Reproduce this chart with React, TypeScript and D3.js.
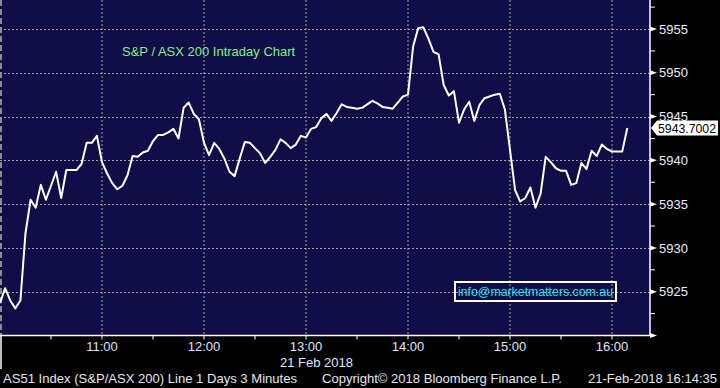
import React from "react";
import * as d3 from "d3";

const START = "2018-02-21T10:00:00";
const STEP_MINUTES = 3;
const VALUES: number[] = [
  5923.7, 5925.4, 5924.0, 5923.1, 5924.0, 5931.7, 5935.5, 5934.6, 5937.2, 5935.5,
  5937.1, 5938.7, 5935.7, 5938.9, 5938.9, 5938.9, 5939.6, 5942.0, 5942.0, 5942.8,
  5939.8, 5938.5, 5937.4, 5936.7, 5937.1, 5938.3, 5940.5, 5940.4, 5940.9, 5941.1,
  5942.2, 5942.9, 5942.9, 5943.2, 5943.6, 5942.5, 5946.0, 5946.6, 5945.3, 5944.7,
  5942.0, 5940.6, 5942.0, 5941.3, 5940.2, 5938.7, 5938.2, 5940.2, 5942.1, 5942.0,
  5941.4, 5940.8, 5939.7, 5940.4, 5941.2, 5942.4, 5942.0, 5941.4, 5941.8, 5942.8,
  5942.6, 5943.6, 5943.8, 5944.8, 5945.3, 5944.5, 5945.4, 5946.4, 5946.1, 5946.0,
  5945.9, 5946.0, 5946.4, 5946.8, 5946.5, 5946.1, 5946.0, 5945.9, 5946.6, 5947.3,
  5947.5, 5953.0, 5955.1, 5955.2, 5953.9, 5952.4, 5952.1, 5948.6, 5947.4, 5947.9,
  5944.3, 5945.8, 5946.7, 5944.5, 5946.3, 5947.1, 5947.3, 5947.5, 5947.6, 5945.8,
  5941.2, 5936.6, 5935.3, 5935.7, 5936.9, 5934.6, 5936.2, 5940.4, 5939.8, 5939.1,
  5938.8, 5938.8, 5937.2, 5937.4, 5939.7, 5939.0, 5941.1, 5940.5, 5941.8, 5941.3,
  5941.0, 5941.0, 5941.0, 5943.7002,
];
const LAST_LABEL = "5943.7002";
const HOUR_TICKS = ["11:00", "12:00", "13:00", "14:00", "15:00", "16:00"];
const Y_MAJOR = [5920, 5925, 5930, 5935, 5940, 5945, 5950, 5955];
const Y_LABELS = [5925, 5930, 5935, 5940, 5945, 5950, 5955];
const TITLE = "S&P / ASX 200 Intraday Chart";
const INFO = "info@marketmatters.com.au";
const DATE_LABEL = "21 Feb 2018";
const FOOTER_LEFT = "AS51 Index (S&P/ASX 200) Line 1 Days 3 Minutes";
const FOOTER_MID = "Copyright\u00A9 2018 Bloomberg Finance L.P.";
const FOOTER_RIGHT = "21-Feb-2018 16:14:35";

const W = 720;
const H = 388;
const PLOT_R = 650;
const PLOT_B = 335.5;

export default function App() {
  const t0 = new Date(START);
  const x = d3
    .scaleTime()
    .domain([t0, d3.timeHour.offset(t0, 6)])
    .range([0, 612]);
  const y = d3.scaleLinear().domain([5920, 5955]).range([PLOT_B, 29]);

  const pts = VALUES.map((v, i) => ({
    t: d3.timeMinute.offset(t0, i * STEP_MINUTES),
    v,
  }));
  const line = d3
    .line<{ t: Date; v: number }>()
    .x((d) => x(d.t))
    .y((d) => y(d.v));

  const hourDates = HOUR_TICKS.map((s) => {
    const [hh, mm] = s.split(":").map(Number);
    const d = new Date(t0);
    d.setHours(hh, mm, 0, 0);
    return d;
  });
  const halfTicks = d3.timeMinute
    .every(30)!
    .range(d3.timeMinute.offset(t0, 30), x.invert(PLOT_R));
  const yMinor = d3.range(5922.5, 5958, 5);
  const last = pts[pts.length - 1];
  const ly = y(last.v);
  const font = "'Liberation Sans', Arial, sans-serif";
  const grid = "#a9a58f";

  return (
    <svg
      width={W}
      height={H}
      style={{ position: "absolute", left: 0, top: 0, display: "block" }}
      fontFamily={font}
    >
      <rect x={0} y={0} width={W} height={H} fill="#000" />
      <rect x={0} y={0} width={PLOT_R} height={PLOT_B} fill="#100d48" />
      {/* grid */}
      {hourDates.map((d, i) => (
        <line
          key={"vg" + i}
          x1={x(d)}
          x2={x(d)}
          y1={0}
          y2={PLOT_B}
          stroke={grid}
          strokeWidth={1}
          strokeDasharray="2,2"
        />
      ))}
      {Y_MAJOR.slice(1).map((v) => (
        <line
          key={"hg" + v}
          x1={0}
          x2={PLOT_R}
          y1={Math.round(y(v)) + 0.5}
          y2={Math.round(y(v)) + 0.5}
          stroke={grid}
          strokeWidth={1}
          strokeDasharray="2,2"
        />
      ))}
      <line
        x1={1}
        x2={1}
        y1={0}
        y2={PLOT_B}
        stroke="#8c8c8c"
        strokeWidth={2}
        strokeDasharray="6,3"
      />
      {/* title */}
      <text x={122} y={56} fill="#86ee86" fontSize={13}>
        {TITLE}
      </text>
      {/* info box */}
      <rect
        x={455}
        y={282}
        width={161}
        height={19}
        fill="none"
        stroke="#fff"
        strokeWidth={2}
      />
      <text
        x={458}
        y={296}
        fill="#22e3e6"
        fontSize={12.5}
        textLength={155}
        lengthAdjust="spacingAndGlyphs"
      >
        {INFO}
      </text>
      {/* line */}
      <path
        d={line(pts) || ""}
        fill="none"
        stroke="#fff"
        strokeWidth={2}
        strokeLinejoin="round"
      />
      {/* axes */}
      <line x1={PLOT_R} x2={PLOT_R} y1={0} y2={PLOT_B} stroke="#fff" strokeWidth={1.5} />
      <line x1={0} x2={PLOT_R} y1={PLOT_B} y2={PLOT_B} stroke="#fff" strokeWidth={1.5} />
      <line x1={1} x2={1} y1={PLOT_B} y2={369} stroke="#fff" strokeWidth={1.5} />
      {yMinor.map((v) => (
        <line
          key={"ym" + v}
          x1={PLOT_R}
          x2={PLOT_R + 5}
          y1={y(v)}
          y2={y(v)}
          stroke="#fff"
          strokeWidth={1}
        />
      ))}
      {Y_MAJOR.map((v) => (
        <path
          key={"yM" + v}
          d={`M${PLOT_R},${y(v) - 2.5}L${PLOT_R + 7},${y(v)}L${PLOT_R},${y(v) + 2.5}Z`}
          fill="#fff"
        />
      ))}
      {Y_LABELS.map((v) => (
        <text
          key={"yl" + v}
          x={659}
          y={y(v) + 4.7}
          fill="#e8ecff"
          fontSize={13}
        >
          {v}
        </text>
      ))}
      {/* last value tag */}
      <path
        d={`M${PLOT_R + 1},${ly}L${PLOT_R + 7},${ly - 7.5}L718,${ly - 7.5}L718,${ly + 7.5}L${PLOT_R + 7},${ly + 7.5}Z`}
        fill="#fff"
      />
      <text x={658} y={ly + 4.7} fill="#000" fontSize={13} textLength={58} lengthAdjust="spacingAndGlyphs">
        {LAST_LABEL}
      </text>
      {/* x ticks */}
      {halfTicks.map((d, i) => (
        <line
          key={"xt" + i}
          x1={x(d)}
          x2={x(d)}
          y1={PLOT_B}
          y2={PLOT_B + 4}
          stroke="#fff"
          strokeWidth={1}
        />
      ))}
      {hourDates.map((d, i) => (
        <text
          key={"xl" + i}
          x={x(d)}
          y={351}
          textAnchor="middle"
          fill="#dfe6ff"
          fontSize={13}
        >
          {HOUR_TICKS[i]}
        </text>
      ))}
      <text x={353} y={366.5} textAnchor="end" fill="#dfe6ff" fontSize={13}>
        {DATE_LABEL}
      </text>
      {/* footer */}
      <text x={3} y={383.3} fill="#e4e6ee" fontSize={13} textLength={294} lengthAdjust="spacingAndGlyphs">
        {FOOTER_LEFT}
      </text>
      <text x={322} y={383.3} fill="#e4e6ee" fontSize={13} textLength={240} lengthAdjust="spacingAndGlyphs">
        {FOOTER_MID}
      </text>
      <text x={588} y={383.3} fill="#e4e6ee" fontSize={13} textLength={129} lengthAdjust="spacingAndGlyphs">
        {FOOTER_RIGHT}
      </text>
    </svg>
  );
}
